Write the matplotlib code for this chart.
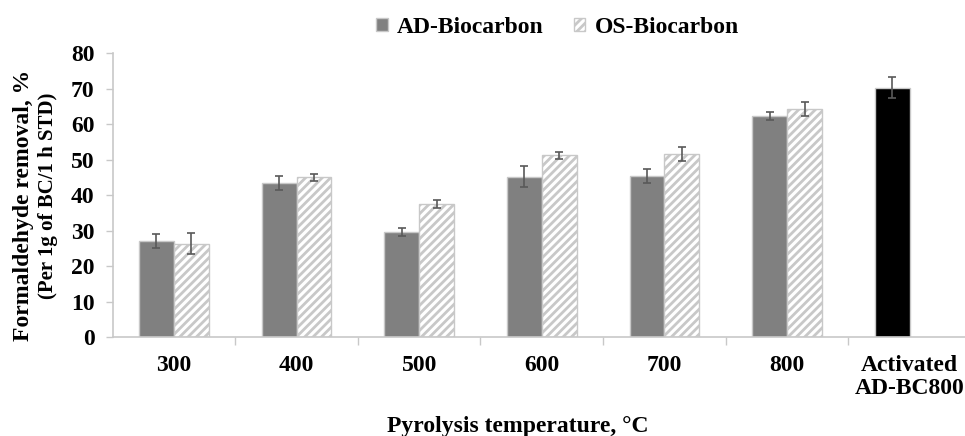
import matplotlib.pyplot as plt
import numpy as np

categories = ["300", "400", "500", "600", "700", "800", "Activated\nAD-BC800"]
ad_values = [27.0, 43.4, 29.6, 45.2, 45.5, 62.3, 70.3]
ad_errors = [2.0, 2.0, 1.1, 3.0, 2.0, 1.0, 3.0]
os_values = [26.3, 45.0, 37.4, 51.2, 51.5, 64.2]
os_errors = [3.0, 1.0, 1.1, 1.0, 2.0, 2.0]

plt.rcParams['font.family'] = ['Liberation Serif', 'DejaVu Serif']
plt.rcParams['font.weight'] = 'bold'
plt.rcParams['hatch.linewidth'] = 2.0

fig = plt.figure(figsize=(9.65, 4.36), dpi=100)
ax = fig.add_axes([0.1166, 0.227, 0.8834, 0.651])

width = 0.285
x = np.arange(len(categories))
ad_colors = ["#808080"] * (len(categories) - 1) + ["#000000"]
ax.bar(x - width / 2, ad_values, width, color=ad_colors, edgecolor="#c8c8c8",
       linewidth=1.0, label="AD-Biocarbon", zorder=2)
ax.errorbar(x - width / 2, ad_values, yerr=ad_errors, fmt="none", ecolor="#595959",
            elinewidth=1.2, capsize=2.7, capthick=1.2, zorder=3)
x_os = x[:len(os_values)]
ax.bar(x_os + width / 2, os_values, width, color="white", edgecolor="#c8c8c8",
       hatch="////", linewidth=1.0, label="OS-Biocarbon", zorder=2)
ax.errorbar(x_os + width / 2, os_values, yerr=os_errors, fmt="none", ecolor="#595959",
            elinewidth=1.2, capsize=2.7, capthick=1.2, zorder=3)

ax.set_xlim(-0.5, 6.45)
ax.set_ylim(0, 80)
ax.set_yticks(range(0, 81, 10))
ax.set_xticks(x)
ax.set_xticklabels(categories, fontsize=17, fontweight="bold", linespacing=1.1)
ax.set_xticks(np.arange(0.5, 6.5, 1.0), minor=True)
ax.tick_params(axis="x", which="major", length=0, pad=13)
ax.tick_params(axis="x", which="minor", length=6, color="#c8c8c8", width=1)
ax.tick_params(axis="y", labelsize=17, length=5, color="#c8c8c8", width=1, pad=8)
for lbl in ax.get_yticklabels():
    lbl.set_fontweight("bold")

for side in ["top", "right"]:
    ax.spines[side].set_visible(False)
for side in ["left", "bottom"]:
    ax.spines[side].set_color("#c8c8c8")
    ax.spines[side].set_linewidth(1.2)

fig.text(0.537, 0.022, "Pyrolysis temperature, °C", ha="center", va="center",
         fontsize=17, fontweight="bold")
fig.text(0.024, 0.53, "Formaldehyde removal, %", rotation=90, ha="center", va="center",
         fontsize=17, fontweight="bold")
fig.text(0.05, 0.55, "(Per 1g of BC/1 h STD)", rotation=90, ha="center", va="center",
         fontsize=15, fontweight="bold")

ax.legend(loc="lower center", bbox_to_anchor=(0.522, 1.02), ncol=2, frameon=False,
          fontsize=17, handlelength=0.5, handleheight=0.5, handletextpad=0.4,
          columnspacing=1.25, borderaxespad=0)

fig.savefig("out.png", dpi=100)
